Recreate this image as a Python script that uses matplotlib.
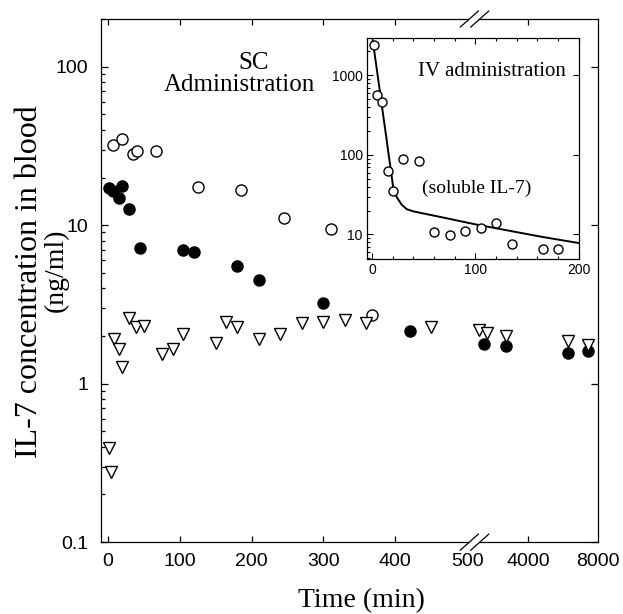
import numpy as np
import matplotlib
matplotlib.use("Agg")
import matplotlib.pyplot as plt
import matplotlib.ticker as mticker
from matplotlib.patches import Polygon

# ---- SC administration (main panel) ----
open_t = [7, 20, 35, 40, 67, 125, 185, 245, 310, 367]
open_c = [32, 35, 28, 29.6, 29.3, 17.4, 16.6, 11.1, 9.5, 2.7]

fill_t = [2, 7, 15, 20, 30, 44, 104, 120, 179, 210, 299, 420, 1470, 2750, 6280, 7420]
fill_c = [17.2, 16.4, 14.8, 17.7, 12.7, 7.2, 7.0, 6.75, 5.5, 4.5, 3.25, 2.16, 1.78, 1.73, 1.57, 1.60]

tri_t = [1, 4, 9, 15, 19, 30, 39, 50, 75, 90, 104, 150, 165, 179, 210, 240, 270,
         299, 330, 359, 449, 1190, 1660, 2750, 6280, 7420]
tri_c = [0.39, 0.277, 1.91, 1.65, 1.28, 2.58, 2.29, 2.31, 1.54, 1.65, 2.05, 1.80, 2.45,
         2.29, 1.92, 2.06, 2.43, 2.45, 2.52, 2.43, 2.29, 2.18, 2.10, 2.0, 1.87, 1.75]

x_ticks = [0, 100, 200, 300, 400, 500, 4000, 8000]
y_ticks = [0.1, 1, 10, 100]

# ---- IV administration (inset) ----
iv_t = [2, 5, 10, 15, 20, 30, 45, 60, 75, 90, 105, 120, 135, 165, 180]
iv_c = [2430, 560, 462, 62.5, 35.7, 89.5, 82.8, 10.8, 9.9, 11.2, 12.0, 14.0, 7.6, 6.6, 6.5]

fit_t = [0.6, 3.8, 6.5, 9.0, 11.4, 13.7, 15.9, 18.4, 20.6, 23.8, 28.7, 33.5, 40, 70, 100, 135, 165, 200]
fit_c = [2750, 1400, 785, 461, 272, 168, 103, 61, 37.6, 29.5, 23.6, 20.8, 19.5, 16.2, 13.4, 11.0, 9.3, 7.8]

# axe x coupé : linéaire jusqu'à 500 min, puis compressé
BREAK = 500
K = 85 / 3500


def fwd(t):
    t = np.asarray(t, dtype=float)
    return np.where(t <= BREAK, t, BREAK + (t - BREAK) * K)


def inv(u):
    u = np.asarray(u, dtype=float)
    return np.where(u <= BREAK, u, BREAK + (u - BREAK) / K)


plt.rcParams["font.family"] = "Liberation Sans"
SERIF = "Liberation Serif"

fig = plt.figure(figsize=(6.23, 6.14), dpi=100)
ax = fig.add_axes([0.162, 0.117, 0.798, 0.852])

ax.plot(open_t, open_c, "o", mfc="white", mec="black", ms=8, mew=1.0, ls="none", zorder=3)
ax.plot(fill_t, fill_c, "o", mfc="black", mec="black", ms=8, ls="none", zorder=3)
ax.plot(tri_t, tri_c, "v", mfc="white", mec="black", ms=8.5, mew=1.0, ls="none", zorder=4)

ax.set_xscale("function", functions=(fwd, inv))
ax.set_yscale("log")
ax.set_xlim(-9.7, 8000)
ax.set_ylim(0.1, 200)
ax.set_xticks(x_ticks)
ax.set_xticklabels([str(v) for v in x_ticks])
ax.xaxis.set_minor_locator(mticker.NullLocator())
ax.set_yticks(y_ticks)
ax.set_yticklabels(["0.1", "1", "10", "100"])
ax.yaxis.set_minor_locator(mticker.LogLocator(subs=np.arange(2, 10)))
ax.yaxis.set_minor_formatter(mticker.NullFormatter())

ax.tick_params(which="both", direction="in", top=True, right=True, labelsize=14, width=0.9)
ax.tick_params(axis="y", which="major", length=5, pad=9)
ax.tick_params(axis="y", which="minor", length=3, right=False)
ax.tick_params(axis="x", which="major", length=4, pad=8)
for i in (5, 7):
    tk = ax.xaxis.get_major_ticks()[i]
    tk.tick1line.set_visible(False)
    tk.tick2line.set_visible(False)
for s in ax.spines.values():
    s.set_linewidth(0.9)

# marques de coupure //
dx, dy = 9 / 497, 8 / 523
c1, c2 = 0.741, 0.762
for yb in (0, 1):
    ax.add_patch(Polygon([(c1 - dx, yb - dy), (c1 + dx, yb + dy), (c2 + dx, yb + dy), (c2 - dx, yb - dy)],
                         closed=True, fc="white", ec="none", transform=ax.transAxes,
                         clip_on=False, zorder=5))
    for c in (c1, c2):
        ax.plot([c - dx, c + dx], [yb - dy, yb + dy], color="black", lw=0.9,
                transform=ax.transAxes, clip_on=False, zorder=6)

ax.set_xlabel("Time (min)", fontsize=20, family=SERIF)
ax.xaxis.set_label_coords(0.525, -0.088)

# titre de l'axe y : deux lignes, la première plus grande
fig.text(37 / 623, 1 - 282 / 614, "IL-7 concentration in blood", rotation=90,
         rotation_mode="anchor", ha="center", va="baseline", fontsize=23, family=SERIF)
fig.text(63 / 623, 1 - 270 / 614, "(ng/ml)", rotation=90,
         rotation_mode="anchor", ha="center", va="baseline", fontsize=20, family=SERIF)

ax.text(0.308, 0.905, "SC", transform=ax.transAxes, ha="center", va="baseline",
        fontsize=18, family=SERIF)
ax.text(0.278, 0.862, "Administration", transform=ax.transAxes, ha="center", va="baseline",
        fontsize=18, family=SERIF)

# ---- inset IV ----
axi = fig.add_axes([0.589, 0.578, 0.340, 0.360])
axi.plot(fit_t, fit_c, color="black", lw=1.4, zorder=2)
axi.plot(iv_t, iv_c, "o", mfc="white", mec="black", ms=6.5, mew=1.0, ls="none", zorder=3)
axi.set_yscale("log")
axi.set_xlim(-5, 200)
axi.set_ylim(4.9, 2950)
axi.set_xticks([0, 100, 200])
axi.xaxis.set_minor_locator(mticker.MultipleLocator(20))
axi.set_yticks([10, 100, 1000])
axi.set_yticklabels(["10", "100", "1000"])
axi.yaxis.set_minor_locator(mticker.LogLocator(subs=np.arange(2, 10)))
axi.yaxis.set_minor_formatter(mticker.NullFormatter())
axi.tick_params(which="both", direction="in", top=True, right=True, labelsize=10, width=0.8)
axi.tick_params(which="major", length=4, pad=3)
axi.tick_params(which="minor", length=2.5)
axi.tick_params(axis="y", which="minor", right=False)
for s in axi.spines.values():
    s.set_linewidth(0.9)

axi.text(0.94, 0.83, "IV administration", transform=axi.transAxes, ha="right", va="baseline",
         fontsize=15, family=SERIF)
axi.text(0.52, 0.30, "(soluble IL-7)", transform=axi.transAxes, ha="center", va="baseline",
         fontsize=14, family=SERIF)

fig.savefig("out.png", dpi=100)
